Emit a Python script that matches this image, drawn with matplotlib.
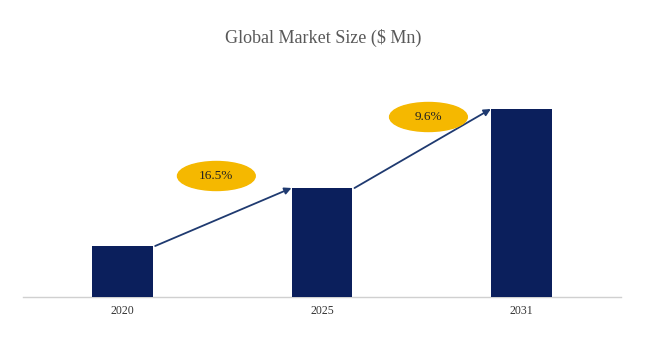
import matplotlib.pyplot as plt
from matplotlib.patches import Ellipse

years = ['2020', '2025', '2031']
market_size = [51, 109, 188]
cagr_labels = ['16.5%', '9.6%']

# bubble placement relative to the arrow midpoint
bubble_dx = [-0.03, 0.034]
bubble_dy = [41, 31.5]

bar_color = '#0b1f5c'
arrow_color = '#1f3a70'
bubble_color = '#f5b800'

plt.rcParams['font.family'] = ['Liberation Serif', 'DejaVu Serif']

fig = plt.figure(figsize=(6.5, 3.51), dpi=100)
ax = fig.add_axes([23 / 650, 54 / 351, 598 / 650, 240 / 351])

x = list(range(len(years)))
ax.bar(x, market_size, width=0.306, color=bar_color, zorder=3)

bw = 0.306 / 2
for i in range(len(years) - 1):
    ax.annotate('', xy=(x[i + 1] - bw, market_size[i + 1]),
                xytext=(x[i] + bw + 0.01, market_size[i]),
                arrowprops=dict(arrowstyle='-|>', color=arrow_color, lw=1.3,
                                mutation_scale=10, shrinkA=0, shrinkB=0), zorder=4)
    cx = x[i] + 0.5 + bubble_dx[i]
    cy = (market_size[i] + market_size[i + 1]) / 2 + bubble_dy[i]
    ax.add_patch(Ellipse((cx, cy), 0.39, 29, color=bubble_color, zorder=5))
    ax.text(cx, cy, cagr_labels[i], ha='center', va='center', fontsize=9.5,
            color='#222222', zorder=6)

ax.set_xlim(-0.5, 2.5)
ax.set_ylim(0, 240)
ax.set_xticks(x)
ax.set_xticklabels(years, fontsize=8.5, color='#333333')
ax.tick_params(axis='x', length=0, pad=6)
ax.set_yticks([])
for s in ['top', 'right', 'left']:
    ax.spines[s].set_visible(False)
ax.spines['bottom'].set_color('#d0d0d0')
ax.spines['bottom'].set_linewidth(1)
ax.patch.set_alpha(0)

fig.text(0.497, 0.893, 'Global Market Size ($ Mn)', ha='center', va='center',
         fontsize=13, color='#595959')

fig.savefig('out.png', dpi=100)
